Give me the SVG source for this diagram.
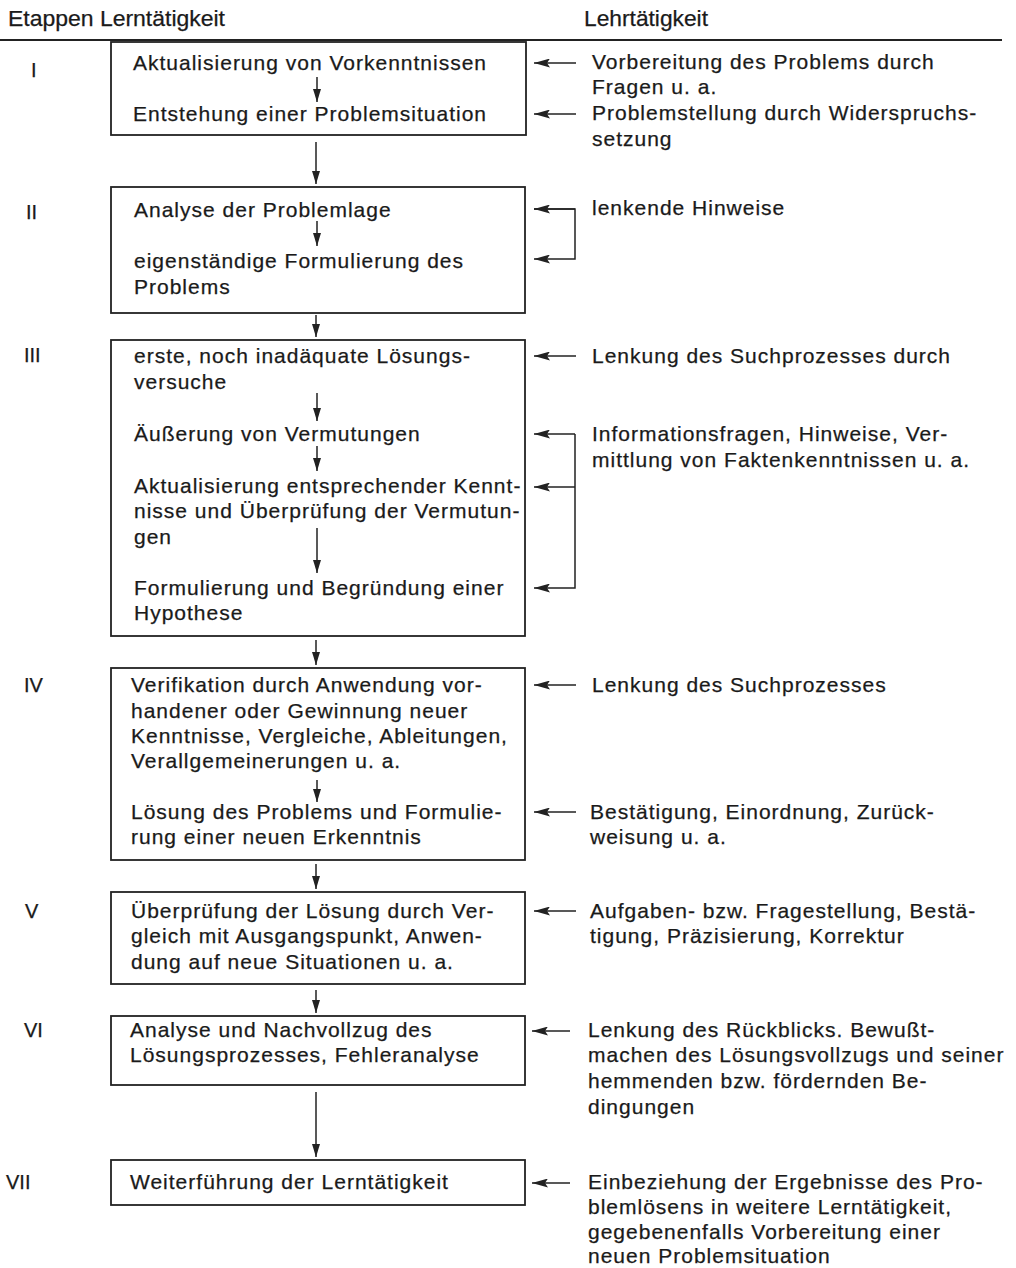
<svg xmlns="http://www.w3.org/2000/svg" width="1016" height="1268" viewBox="0 0 1016 1268">
<style>
  text { font-family: "Liberation Sans", Arial, sans-serif; fill: #1a1a1a; stroke: #1a1a1a; stroke-width: 0.25; }
  .hd { font-size: 22px; }
  .t { font-size: 21px; letter-spacing: 1px; }
  .rn { font-size: 20px; }
  .box { fill: none; stroke: #222; stroke-width: 1.8; }
  .ln { fill: none; stroke: #222; stroke-width: 1.5; }
</style>
<defs>
  <marker id="ah" markerUnits="userSpaceOnUse" markerWidth="16" markerHeight="9" refX="16" refY="4.5" orient="auto">
    <path d="M0,0 L16,4.5 L0,9 L3,4.5 z" fill="#222"/>
  </marker>
  <marker id="av" markerUnits="userSpaceOnUse" markerWidth="13" markerHeight="9" refX="13" refY="4.5" orient="auto">
    <path d="M0,0.5 L13,4.5 L0,8.5 z" fill="#222"/>
  </marker>
</defs>
<rect width="1016" height="1268" fill="#fff"/>

<g id="header">
  <text class="hd" x="8" y="26" textLength="217" lengthAdjust="spacingAndGlyphs">Etappen Lerntätigkeit</text>
  <text class="hd" x="584" y="26" textLength="124" lengthAdjust="spacingAndGlyphs">Lehrtätigkeit</text>
  <line x1="0" y1="40" x2="1002" y2="40" stroke="#222" stroke-width="2"/>
</g>

<g id="numerals">
  <text class="rn" x="31" y="77">I</text>
  <text class="rn" x="26" y="219">II</text>
  <text class="rn" x="24" y="362">III</text>
  <text class="rn" x="24" y="692">IV</text>
  <text class="rn" x="25" y="918">V</text>
  <text class="rn" x="24" y="1037">VI</text>
  <text class="rn" x="6" y="1189">VII</text>
</g>

<g id="stage1">
  <rect class="box" x="111" y="42" width="415" height="93"/>
  <text class="t" x="133" y="70">Aktualisierung von Vorkenntnissen</text>
  <text class="t" x="133" y="121">Entstehung einer Problemsituation</text>
</g>

<g id="stage2">
  <rect class="box" x="111" y="187" width="414" height="126"/>
  <text class="t" x="134" y="217">Analyse der Problemlage</text>
  <text class="t" x="134" y="268">eigenständige Formulierung des</text>
  <text class="t" x="134" y="294">Problems</text>
</g>

<g id="stage3">
  <rect class="box" x="111" y="340" width="414" height="296"/>
  <text class="t" x="134" y="363">erste, noch inadäquate Lösungs-</text>
  <text class="t" x="134" y="389">versuche</text>
  <text class="t" x="134" y="441">Äußerung von Vermutungen</text>
  <text class="t" x="134" y="493">Aktualisierung entsprechender Kennt-</text>
  <text class="t" x="134" y="518">nisse und Überprüfung der Vermutun-</text>
  <text class="t" x="134" y="544">gen</text>
  <text class="t" x="134" y="595">Formulierung und Begründung einer</text>
  <text class="t" x="134" y="620">Hypothese</text>
</g>

<g id="stage4">
  <rect class="box" x="111" y="668" width="414" height="192"/>
  <text class="t" x="131" y="692">Verifikation durch Anwendung vor-</text>
  <text class="t" x="131" y="718">handener oder Gewinnung neuer</text>
  <text class="t" x="131" y="743">Kenntnisse, Vergleiche, Ableitungen,</text>
  <text class="t" x="131" y="768">Verallgemeinerungen u. a.</text>
  <text class="t" x="131" y="819">Lösung des Problems und Formulie-</text>
  <text class="t" x="131" y="844">rung einer neuen Erkenntnis</text>
</g>

<g id="stage5">
  <rect class="box" x="111" y="892" width="414" height="92"/>
  <text class="t" x="131" y="918">Überprüfung der Lösung durch Ver-</text>
  <text class="t" x="131" y="943">gleich mit Ausgangspunkt, Anwen-</text>
  <text class="t" x="131" y="969">dung auf neue Situationen u. a.</text>
</g>

<g id="stage6">
  <rect class="box" x="111" y="1016" width="414" height="69"/>
  <text class="t" x="130" y="1037">Analyse und Nachvollzug des</text>
  <text class="t" x="130" y="1062">Lösungsprozesses, Fehleranalyse</text>
</g>

<g id="stage7">
  <rect class="box" x="111" y="1160" width="414" height="45"/>
  <text class="t" x="130" y="1189">Weiterführung der Lerntätigkeit</text>
</g>

<g id="teaching">
  <text class="t" x="592" y="69">Vorbereitung des Problems durch</text>
  <text class="t" x="592" y="94">Fragen u. a.</text>
  <text class="t" x="592" y="120">Problemstellung durch Widerspruchs-</text>
  <text class="t" x="592" y="146">setzung</text>
  <text class="t" x="592" y="215">lenkende Hinweise</text>
  <text class="t" x="592" y="363">Lenkung des Suchprozesses durch</text>
  <text class="t" x="592" y="441">Informationsfragen, Hinweise, Ver-</text>
  <text class="t" x="592" y="467">mittlung von Faktenkenntnissen u. a.</text>
  <text class="t" x="592" y="692">Lenkung des Suchprozesses</text>
  <text class="t" x="590" y="819">Bestätigung, Einordnung, Zurück-</text>
  <text class="t" x="590" y="844">weisung u. a.</text>
  <text class="t" x="590" y="918">Aufgaben- bzw. Fragestellung, Bestä-</text>
  <text class="t" x="590" y="943">tigung, Präzisierung, Korrektur</text>
  <text class="t" x="588" y="1037">Lenkung des Rückblicks. Bewußt-</text>
  <text class="t" x="588" y="1062">machen des Lösungsvollzugs und seiner</text>
  <text class="t" x="588" y="1088">hemmenden bzw. fördernden Be-</text>
  <text class="t" x="588" y="1114">dingungen</text>
  <text class="t" x="588" y="1189">Einbeziehung der Ergebnisse des Pro-</text>
  <text class="t" x="588" y="1214">blemlösens in weitere Lerntätigkeit,</text>
  <text class="t" x="588" y="1239">gegebenenfalls Vorbereitung einer</text>
  <text class="t" x="588" y="1263">neuen Problemsituation</text>
</g>

<g id="connectors">
  <!-- vertical flow -->
  <line class="ln" x1="317" y1="77" x2="317" y2="102" marker-end="url(#av)"/>
  <line class="ln" x1="316" y1="142" x2="316" y2="184" marker-end="url(#av)"/>
  <line class="ln" x1="317" y1="221" x2="317" y2="246" marker-end="url(#av)"/>
  <line class="ln" x1="316" y1="315" x2="316" y2="337" marker-end="url(#av)"/>
  <line class="ln" x1="317" y1="393" x2="317" y2="421" marker-end="url(#av)"/>
  <line class="ln" x1="317" y1="446" x2="317" y2="471" marker-end="url(#av)"/>
  <line class="ln" x1="317" y1="528" x2="317" y2="573" marker-end="url(#av)"/>
  <line class="ln" x1="316" y1="640" x2="316" y2="665" marker-end="url(#av)"/>
  <line class="ln" x1="317" y1="780" x2="317" y2="802" marker-end="url(#av)"/>
  <line class="ln" x1="316" y1="864" x2="316" y2="889" marker-end="url(#av)"/>
  <line class="ln" x1="316" y1="990" x2="316" y2="1013" marker-end="url(#av)"/>
  <line class="ln" x1="316" y1="1092" x2="316" y2="1157" marker-end="url(#av)"/>
  <!-- teaching arrows -->
  <line class="ln" x1="576" y1="63" x2="534" y2="63" marker-end="url(#ah)"/>
  <line class="ln" x1="576" y1="114" x2="534" y2="114" marker-end="url(#ah)"/>
  <path class="ln" d="M534,209 H575 V259 H534" marker-end="url(#ah)"/>
  <line class="ln" x1="575" y1="209" x2="534" y2="209" marker-end="url(#ah)"/>
  <line class="ln" x1="576" y1="356" x2="534" y2="356" marker-end="url(#ah)"/>
  <path class="ln" d="M575,434 V588 H534" marker-end="url(#ah)"/>
  <line class="ln" x1="575" y1="434" x2="534" y2="434" marker-end="url(#ah)"/>
  <line class="ln" x1="575" y1="487" x2="534" y2="487" marker-end="url(#ah)"/>
  <line class="ln" x1="576" y1="685" x2="534" y2="685" marker-end="url(#ah)"/>
  <line class="ln" x1="576" y1="812" x2="534" y2="812" marker-end="url(#ah)"/>
  <line class="ln" x1="576" y1="911" x2="534" y2="911" marker-end="url(#ah)"/>
  <line class="ln" x1="570" y1="1031" x2="532" y2="1031" marker-end="url(#ah)"/>
  <line class="ln" x1="570" y1="1183" x2="532" y2="1183" marker-end="url(#ah)"/>
</g>
</svg>
